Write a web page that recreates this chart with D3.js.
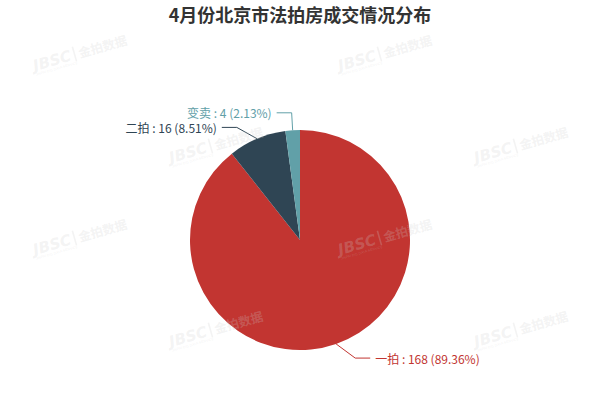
<!DOCTYPE html>
<html>
<head>
<meta charset="utf-8">
<script src="https://cdn.jsdelivr.net/npm/d3@7"></script>
<style>
  html, body { margin: 0; padding: 0; background: #fff; }
  svg { display: block; }
</style>
</head>
<body>
<svg id="chart" width="600" height="400"></svg>
<script>
// ---- data ----
const titleText = "4月份北京市法拍房成交情况分布";
const categories = ["一拍", "二拍", "变卖"];
const values = [168, 16, 4];
const colors = ["#c23531", "#2f4554", "#61a0a8"];

// ---- layout ----
const W = 600, H = 400;
const cx = W * 0.5, cy = H * 0.6;
const radius = Math.min(W, H) / 2 * 0.55;
const len1 = 15, len2 = 15, textGap = 5, labelH = 14.6;
const font = '"Noto Sans CJK SC", "Microsoft YaHei", sans-serif';

const svg = d3.select("#chart");

svg.append("text")
  .attr("x", cx).attr("y", 14)
  .attr("text-anchor", "middle")
  .attr("dominant-baseline", "central")
  .attr("font-family", font)
  .attr("font-size", 18)
  .attr("font-weight", "bold")
  .attr("fill", "#333")
  .text(titleText);

const data = categories.map((c, i) => ({ name: c, value: values[i], color: colors[i] }));
const total = d3.sum(values);

const pie = d3.pie().value(d => d.value).sort(null);
const arcs = pie(data);
const arcGen = d3.arc().innerRadius(0).outerRadius(radius);

const g = svg.append("g").attr("transform", `translate(${cx},${cy})`);

g.selectAll("path.slice")
  .data(arcs)
  .enter().append("path")
  .attr("class", "slice")
  .attr("d", arcGen)
  .attr("fill", d => d.data.color);

// ---- labels (echarts-like layout) ----
const labels = arcs.map(a => {
  const mid = (a.startAngle + a.endAngle) / 2;
  const dx = Math.sin(mid), dy = -Math.cos(mid);
  const x1 = radius * dx, y1 = radius * dy;
  const x2 = (radius + len1) * dx, y2 = (radius + len1) * dy;
  const dir = dx < 0 ? -1 : 1;
  const x3 = x2 + dir * len2;
  return {
    a, dir, x1, y1, x2, y2, x3,
    y: y2, x: x3 + dir * textGap,
    text: `${a.data.name} : ${a.data.value} (${(a.data.value / total * 100).toFixed(2)}%)`
  };
});

function avoidOverlap(list) {
  list.sort((p, q) => p.y - q.y);
  for (let it = 0; it < 50; it++) {
    let moved = false;
    for (let i = 1; i < list.length; i++) {
      const gap = list[i].y - list[i - 1].y;
      if (gap < labelH) {
        const d = (labelH - gap) / 2;
        list[i - 1].y -= d; list[i].y += d; moved = true;
      }
    }
    if (!moved) break;
  }
  list.forEach(l => {
    const ady = Math.abs(l.y);
    if (ady < radius + len1) {
      const R = radius + len1 + len2;
      const ddx = Math.sqrt(R * R - ady * ady);
      l.x = l.dir * ddx;
      l.x3 = l.x - l.dir * textGap;
      l.x2 = l.x3 - l.dir * len2;
    }
    l.y2 = l.y;
  });
}
avoidOverlap(labels.filter(l => l.dir < 0));
avoidOverlap(labels.filter(l => l.dir > 0));

g.selectAll("polyline.lbl")
  .data(labels)
  .enter().append("polyline")
  .attr("points", l => [[l.x1, l.y1], [l.x2, l.y2], [l.x3, l.y2]].map(p => p.join(",")).join(" "))
  .attr("fill", "none")
  .attr("stroke", l => l.a.data.color)
  .attr("stroke-width", 1);

g.selectAll("text.lbl")
  .data(labels)
  .enter().append("text")
  .attr("x", l => l.x)
  .attr("y", l => l.y)
  .attr("text-anchor", l => l.dir < 0 ? "end" : "start")
  .attr("dominant-baseline", "central")
  .attr("font-family", font)
  .attr("font-size", 12)
  .attr("fill", l => l.a.data.color)
  .text(l => l.text);

// ---- watermark ----
const wm = svg.append("g").attr("pointer-events", "none");
for (let r = 0; r < 4; r++) {
  const y = 55 + r * 92;
  const x0 = r % 2 ? 212 : 76;
  for (let c = 0; c < 2; c++) {
    const x = x0 + c * 305;
    const t = wm.append("g")
      .attr("transform", `translate(${x},${y}) rotate(-16)`)
      .attr("fill", "rgba(205,205,205,0.24)");
    t.append("text").attr("x", -44).attr("y", 4)
      .attr("font-family", "Verdana, 'DejaVu Sans', sans-serif")
      .attr("font-size", 15).attr("font-weight", "bold").attr("font-style", "italic")
      .text("JBSC");
    t.append("text").attr("x", -44).attr("y", 9)
      .attr("font-family", "sans-serif").attr("font-size", 3.5)
      .text("JINPAI BIG DATA SERVICE");
    t.append("rect").attr("x", -2).attr("y", -9).attr("width", 1.6).attr("height", 15);
    t.append("text").attr("x", 3).attr("y", 4)
      .attr("font-family", font)
      .attr("font-size", 12.5).attr("font-weight", "bold")
      .text("金拍数据");
  }
}
</script>
</body>
</html>
